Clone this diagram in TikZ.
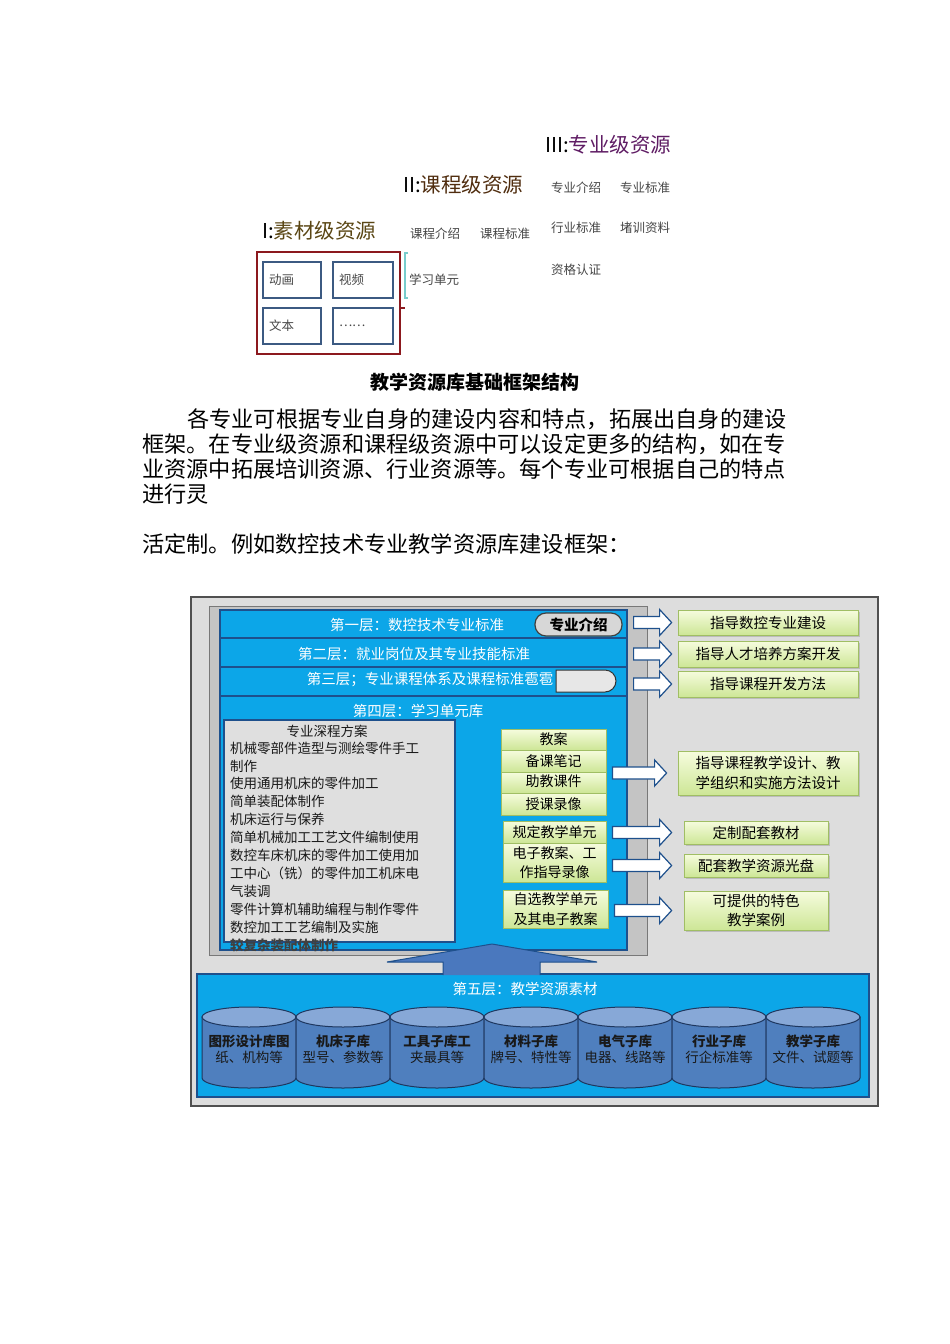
\documentclass[tikz,border=0pt]{standalone}
\usepackage{fontspec}
\setmainfont{Noto Sans CJK SC}
\usetikzlibrary{calc,shadows}
\definecolor{purp}{RGB}{95,28,100}
\definecolor{brn}{RGB}{80,45,15}
\definecolor{olv}{RGB}{90,70,20}
\definecolor{lblc}{RGB}{70,70,70}
\definecolor{dred}{RGB}{140,25,30}
\definecolor{mboxb}{RGB}{60,90,130}
\definecolor{cyanl}{RGB}{120,205,205}
\definecolor{framebg}{RGB}{221,221,221}
\definecolor{frameb}{RGB}{80,80,80}
\definecolor{panelg}{RGB}{196,196,196}
\definecolor{panelb}{RGB}{120,120,120}
\definecolor{bluef}{RGB}{12,166,232}
\definecolor{blueb}{RGB}{30,80,140}
\definecolor{listg}{RGB}{223,223,223}
\definecolor{gtop}{RGB}{246,252,222}
\definecolor{gbot}{RGB}{205,230,150}
\definecolor{gbord}{RGB}{160,190,100}
\definecolor{pillg}{RGB}{215,215,215}
\definecolor{cylbody}{RGB}{79,127,190}
\definecolor{cyltop}{RGB}{135,168,215}
\definecolor{cyledge}{RGB}{30,55,95}
\definecolor{arrb}{RGB}{74,120,190}
\newcommand\fs[2]{\fontsize{#1}{#2}\selectfont}
\newcommand\barr[2]{\draw[barrow] let \p1=#1, \p2=#2 in
  (\x1,\y1+6pt) -- (\x2-12pt,\y1+6pt) -- (\x2-12pt,\y1+13pt) -- (\x2,\y1)
  -- (\x2-12pt,\y1-13pt) -- (\x2-12pt,\y1-6pt) -- (\x1,\y1-6pt) -- cycle;}
\begin{document}
\begin{tikzpicture}[x=1pt,y=-1pt,
  lbl/.style={font=\fs{12.5}{15}, text=lblc, inner sep=0pt},
  mbox/.style={draw=mboxb, line width=1.5pt, fill=white, minimum height=36pt,
    text width=46pt, inner xsep=6pt, align=left, font=\fs{12.5}{15}, text=lblc},
  para/.style={font=\fs{22.2}{25}, anchor=west, inner sep=0pt},
  bluerow/.style={draw=blueb, fill=bluef, line width=1.2pt, inner sep=0pt},
  wtxt/.style={text=white, font=\fs{14.5}{17}, inner sep=0pt},
  gbox/.style={draw=gbord, top color=gtop, bottom color=gbot, line width=0.8pt,
    inner sep=0pt, align=center, font=\fs{14.5}{19.5},
    drop shadow={opacity=0.35, shadow xshift=2pt, shadow yshift=-2pt}},
  lbox/.style={draw=gbord, top color=gtop, bottom color=gbot, line width=0.8pt,
    inner sep=0pt, align=center, font=\fs{14}{19.5}, minimum width=105pt},
  barrow/.style={draw=blueb, fill=white, line width=1.2pt, line join=miter},
  listtxt/.style={font=\fs{13.5}{16}, inner sep=0pt, text=black!90},
  cyltxt/.style={font=\fs{13.5}{16}, inner sep=0pt, text=black!90}]
\useasboundingbox (0,0) rectangle (950,1344);
\fill[white] (0,0) rectangle (950,1344);

% ---------- top diagram ----------
\node[anchor=west, inner sep=0pt, font=\fs{20.5}{24}] (t3) at (545,145) {III:\textcolor{purp}{专业级资源}};
\node[anchor=west, inner sep=0pt, font=\fs{20.5}{24}] (t2) at (403,185) {II:\textcolor{brn}{课程级资源}};
\node[anchor=west, inner sep=0pt, font=\fs{20.5}{24}] (t1) at (262,231) {I:\textcolor{olv}{素材级资源}};

\node[lbl] (a1) at (576,188) {专业介绍};
\node[lbl] (a2) at (645,188) {专业标准};
\node[lbl] (a3) at (576,228) {行业标准};
\node[lbl] (a4) at (645,228) {堵训资料};
\node[lbl] (a5) at (576,270) {资格认证};
\node[lbl] (b1) at (435,234) {课程介绍};
\node[lbl] (b2) at (505,234) {课程标准};
\node[lbl] (b3) at (434,280) {学习单元};

\node[draw=dred, line width=1.8pt, minimum width=143pt, minimum height=102pt, inner sep=0pt] (redbox) at (328.5,303) {};
\node[mbox] (m1) at (292,280) {动画};
\node[mbox, text width=48pt] (m2) at (363,280) {视频};
\node[mbox] (m3) at (292,326) {文本};
\node[mbox, text width=48pt] (m4) at (363,326) {……};
\draw[dred, line width=1.5pt] (redbox.east |- 0,308) -- (405,308);
\draw[cyanl, line width=1.2pt] (408,253) -- (405,253) -- (405,298) -- (408,298);

\node[inner sep=0pt, font=\fs{19}{21}\bfseries] (cap) at (475,382) {教学资源库基础框架结构};

\node[para] (p1) at (187,419) {各专业可根据专业自身的建设内容和特点，拓展出自身的建设};
\node[para] (p2) at (142,444) {框架。在专业级资源和课程级资源中可以设定更多的结构，如在专};
\node[para] (p3) at (142,469) {业资源中拓展培训资源、行业资源等。每个专业可根据自己的特点};
\node[para] (p4) at (142,494) {进行灵};
\node[para] (p5) at (142,544) {活定制。例如数控技术专业教学资源库建设框架：};

% ---------- bottom diagram ----------
\draw[draw=frameb, fill=framebg, line width=1.8pt] (191,597) rectangle (878,1106);
\draw[fill=panelg, draw=panelb, line width=1pt] (209,606) rectangle (647,955);

\node[bluerow, minimum width=407pt, minimum height=254pt] (r4) at (423.5,823) {};
\node[bluerow, minimum width=407pt, minimum height=28pt] (r1) at (423.5,624) {};
\node[bluerow, minimum width=407pt, minimum height=29pt] (r2) at (423.5,652.5) {};
\node[bluerow, minimum width=407pt, minimum height=29pt] (r3) at (423.5,681.5) {};

\node[wtxt] (r1t) at (417,625) {第一层：数控技术专业标准};
\node[wtxt] (r2t) at (414,654) {第二层：就业岗位及其专业技能标准};
\node[wtxt] (r3t) at (430,680) {第三层；专业课程体系及课程标准雹雹};
\node[wtxt] (r4t) at (418,711) {第四层：学习单元库};

\node[draw=black!75, fill=pillg, line width=1.2pt, rounded corners=11pt, minimum width=87pt,
  minimum height=23pt, inner sep=0pt, font=\fs{14.5}{17}\bfseries] (pill) at (578.5,624.5) {专业介绍};
\draw[fill=pillg!60!white, draw=black!80, line width=1pt] (556,670) -- (605,670)
  arc[start angle=90, end angle=-90, radius=11pt] -- (556,692) -- cycle;

% list box
\node[draw=blueb, fill=listg, line width=1.2pt, minimum width=231pt, minimum height=222pt, inner sep=0pt] (lst) at (339.5,831) {};
\node[listtxt] (lt) at (327,731) {专业深程方案};
\foreach \t [count=\k] in {机械零部件造型与测绘零件手工, 制作, 使用通用机床的零件加工,
  简单装配体制作, 机床运行与保养, 简单机械加工工艺文件编制使用, 数控车床机床的零件加工使用加,
  工中心（铣）的零件加工机床电, 气装调, 零件计算机辅助编程与制作零件, 数控加工工艺编制及实施}
  \node[listtxt, anchor=west] (li\k) at (230,{730.1+17.9*\k}) {\t};
\node[listtxt, anchor=west, font=\fs{13.5}{16}\bfseries, text=black!75] (li12) at (230,945) {较复杂装配体制作};

% left green boxes
\node[lbox, minimum height=21pt] (ja) at (553.5,739.5) {教案};
\node[lbox, minimum height=22pt] (bk) at (553.5,761) {备课笔记};
\node[lbox, minimum height=21pt] (zj) at (553.5,782.5) {\raisebox{3pt}{助教课件}};
\node[lbox, minimum height=22pt] (sk) at (553.5,804) {授课录像};
\node[lbox, minimum width=103pt, minimum height=22pt] (gd) at (554.5,832) {规定教学单元};
\node[lbox, minimum width=103pt, minimum height=39pt] (dz) at (554.5,862.5) {电子教案、工\\作指导录像};
\node[lbox, minimum width=105pt, minimum height=38pt] (zx) at (555.5,909) {自选教学单元\\及其电子教案};

% right green boxes
\node[gbox, minimum width=180pt, minimum height=25pt] (g1) at (768,622.5) {指导数控专业建设};
\node[gbox, minimum width=180pt, minimum height=26pt] (g2) at (768,654) {指导人才培养方案开发};
\node[gbox, minimum width=180pt, minimum height=26pt] (g3) at (768,684) {指导课程开发方法};
\node[gbox, minimum width=180pt, minimum height=44pt] (g4) at (768,773) {指导课程教学设计、教\\学组织和实施方法设计};
\node[gbox, minimum width=144pt, minimum height=23pt] (g5) at (756,832.5) {定制配套教材};
\node[gbox, minimum width=144pt, minimum height=23pt] (g6) at (756,865.5) {配套教学资源光盘};
\node[gbox, minimum width=144pt, minimum height=39pt] (g7) at (756,910.5) {可提供的特色\\教学案例};

% block arrows
\barr{($(r1.east |- g1.west)+(6,0)$)}{($(g1.west)+(-6,0)$)}
\barr{($(r2.east |- g2.west)+(6,0)$)}{($(g2.west)+(-6,0)$)}
\barr{($(r3.east |- g3.west)+(6,0)$)}{($(g3.west)+(-6,0)$)}
\barr{($(zj.east |- g4.west)+(6,0)$)}{($(g4.west)+(-11,0)$)}
\barr{($(gd.east |- g5.west)+(6,0)$)}{($(g5.west)+(-12,0)$)}
\barr{($(dz.east |- g6.west)+(6,0)$)}{($(g6.west)+(-12,0)$)}
\barr{($(zx.east |- g7.west)+(6,0)$)}{($(g7.west)+(-12,0)$)}

% layer 5
\node[bluerow, minimum width=672pt, minimum height=123pt] (l5) at (533,1035.5) {};
\draw[fill=arrb, draw=blueb, line width=1pt] (443,975) -- (443,962) -- (387,962) -- (492,944)
  -- (597,962) -- (540,962) -- (540,975);
\node[wtxt] (l5t) at (525,989) {第五层：教学资源素材};

\foreach \cx/\la/\lb [count=\k] in {249/图形设计库图/纸、机构等, 343/机床子库/型号、参数等,
  437/工具子库工/夹最具等, 531/材料子库/牌号、特性等, 625/电气子库/电器、线路等,
  719/行业子库/行企标准等, 813/教学子库/文件、试题等}{
  \filldraw[fill=cylbody, draw=cyledge, line width=1pt] (\cx-47,1017) -- (\cx-47,1078)
    arc[start angle=180, end angle=360, x radius=47pt, y radius=10pt] -- (\cx+47,1017) -- cycle;
  \filldraw[fill=cyltop, draw=cyledge, line width=1pt] (\cx,1017) ellipse[x radius=47pt, y radius=10pt];
  \node[cyltxt, font=\fs{13.5}{16}\bfseries] (c\k a) at (\cx,1041) {\la};
  \node[cyltxt] (c\k b) at (\cx,1057) {\lb};
}
\end{tikzpicture}
\end{document}
